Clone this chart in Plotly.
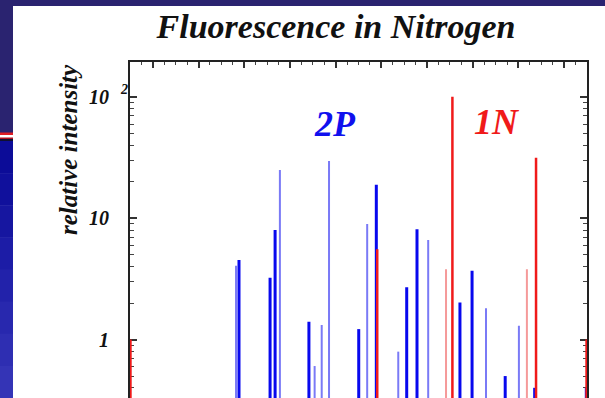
import plotly.graph_objects as go

# ---- data (wavelength in nm, relative intensity) ----
thin_blue_nm = [296.4, 315.6, 330.8, 333.9, 337.1, 353.8, 367.4, 380.5, 405.8, 420.2]
thin_blue_val = [4.07, 25.1, 0.605, 1.32, 29.8, 9.0, 0.795, 6.63, 1.81, 1.30]

thick_blue_nm = [297.7, 311.3, 313.5, 328.3, 350.1, 357.8, 371.1, 375.6, 394.4, 399.7, 414.2, 427.1, 449.7]
thick_blue_val = [4.54, 3.24, 8.02, 1.40, 1.22, 18.9, 2.70, 8.13, 2.02, 3.70, 0.50, 0.40, 0.40]

light_red_nm = [388.3, 423.7]
light_red_val = [3.80, 3.80]

red_nm = [250.2, 358.2, 391.1, 427.7, 449.8]
red_val = [1.0, 5.56, 101.0, 31.7, 1.0]

y_tick_vals = [1, 10, 100]
y_tick_text = ["1", "10", "10"]
y_minor_vals = [0.4, 0.5, 0.6, 0.7, 0.8, 0.9, 2, 3, 4, 5, 6, 7, 8, 9,
                20, 30, 40, 50, 60, 70, 80, 90, 200]
x_major_vals = [260, 280, 300, 320, 340, 360, 380, 400, 420, 440]
x_minor_vals = [255, 265, 270, 275, 285, 290, 295, 305, 310, 315, 325, 330, 335,
                345, 350, 355, 365, 370, 375, 385, 390, 395, 405, 410, 415,
                425, 430, 435, 445]

BASE = 0.01


def sticks(xs, ys):
    px, py = [], []
    for x, y in zip(xs, ys):
        px += [x, x, None]
        py += [BASE, y, None]
    return px, py


fig = go.Figure()
for xs, ys, color, width in [
    (thin_blue_nm, thin_blue_val, "#7a7af6", 2),
    (thick_blue_nm, thick_blue_val, "#0808ee", 3),
    (light_red_nm, light_red_val, "#f59a9a", 2),
    (red_nm, red_val, "#f01a1a", 2.5),
]:
    px, py = sticks(xs, ys)
    fig.add_trace(go.Scatter(x=px, y=py, mode="lines",
                             line=dict(color=color, width=width),
                             hoverinfo="skip", showlegend=False))

serif = "Liberation Serif"
L, R, T = 130, 18, 62
W, H = 605, 398
PW, PH = W - L - R, H - T


def px2paper_x(px):
    return (px - L) / PW


def px2paper_y(py):
    return 1 - (py - T) / PH


shapes = []


def rect(x0, y0, x1, y1, color):
    shapes.append(dict(type="rect", xref="paper", yref="paper",
                       x0=px2paper_x(x0), x1=px2paper_x(x1),
                       y0=px2paper_y(y1), y1=px2paper_y(y0),
                       fillcolor=color, line=dict(width=0), layer="below"))


# slide background pieces
rect(0, 0, W, 6, "#2a2370")
rect(0, 0, 13, 133, "#2a2370")
rect(0, 132.5, 13, 135, "#e01c24")
rect(0, 135, 13, 137.5, "#ffffff")
rect(0, 137.5, 13, 139, "#b01020")
rect(0, 139, 13, 141, "#101030")
grad = ["#0c0c98", "#10109c", "#1616a0", "#1c1ca6", "#2222aa", "#2828ae", "#2e2eb2", "#3434b6"]
y0 = 141
step = (H - 141) / len(grad)
for i, c in enumerate(grad):
    rect(0, y0 + i * step, 13, y0 + (i + 1) * step + 0.5, c)

annotations = [
    dict(text="2P", xref="x", yref="y", x=339.7, y=1.78, showarrow=False,
         xanchor="center", yanchor="middle",
         font=dict(family=serif, size=36, color="#1010ee", weight="bold", style="italic")),
    dict(text="1N", xref="x", yref="y", x=410.6, y=1.795, showarrow=False,
         xanchor="center", yanchor="middle",
         font=dict(family=serif, size=36, color="#f01a1a", weight="bold", style="italic")),
    dict(text="relative intensity", xref="paper", yref="paper",
         x=px2paper_x(68), y=px2paper_y(150), textangle=-90, showarrow=False,
         xanchor="center", yanchor="middle",
         font=dict(family=serif, size=25, color="#111", weight="bold", style="italic")),
    dict(text="2", xref="paper", yref="y", x=px2paper_x(124), y=2, yshift=8,
         xanchor="center", yanchor="middle", showarrow=False,
         font=dict(family=serif, size=14, color="#111", weight="bold", style="italic")),
]

fig.update_layout(
    width=W, height=H,
    margin=dict(l=L, r=R, t=T, b=0, pad=0),
    paper_bgcolor="white", plot_bgcolor="white",
    shapes=shapes, annotations=annotations,
    title=dict(text="Fluorescence in Nitrogen", x=336 / W, xanchor="center",
               y=1 - 26.5 / H, yanchor="middle",
               font=dict(family=serif, size=34, color="#111", weight="bold", style="italic")),
    xaxis=dict(range=[250, 450], side="top", showline=True, linecolor="#222", linewidth=2,
               ticks="inside", ticklen=6, tickwidth=1.5, tickcolor="#333",
               tickmode="array", tickvals=x_major_vals,
               showticklabels=False, showgrid=False, zeroline=False,
               minor=dict(ticks="inside", ticklen=3, tickwidth=1.2, tickmode="array",
                          tickvals=x_minor_vals, tickcolor="#444", showgrid=False)),
    yaxis=dict(type="log", range=[-0.482, 2.290], showline=True, linecolor="#222", linewidth=2,
               mirror="ticks", ticks="inside", ticklen=7, tickwidth=1.5, tickcolor="#333",
               tickmode="array", tickvals=y_tick_vals, ticktext=y_tick_text,
               ticklabelstandoff=15,
               tickfont=dict(family=serif, size=20, color="#111", weight="bold", style="italic"),
               showgrid=False, zeroline=False, layer="below traces",
               minor=dict(ticks="inside", ticklen=4, tickwidth=1.2, tickmode="array",
                          tickvals=y_minor_vals, tickcolor="#444", showgrid=False)),
)

fig.write_html("out.html")
